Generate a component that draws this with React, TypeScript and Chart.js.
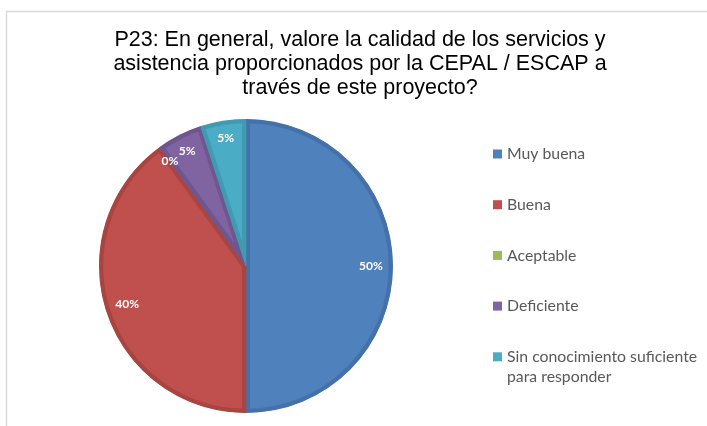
import React, { useEffect, useRef } from "react";
import { Chart, registerables } from "chart.js";

Chart.register(...registerables);

const titleLines = [
  "P23: En general, valore la calidad de los servicios y",
  "asistencia proporcionados por la CEPAL / ESCAP a",
  "través de este proyecto?",
];
const categories = [
  "Muy buena",
  "Buena",
  "Aceptable",
  "Deficiente",
  "Sin conocimiento suficiente para responder",
];
const legendLines = [
  ["Muy buena"],
  ["Buena"],
  ["Aceptable"],
  ["Deficiente"],
  ["Sin conocimiento suficiente", "para responder"],
];
const values = [50, 40, 0, 5, 5];
const valueLabels = ["50%", "40%", "0%", "5%", "5%"];
const fillColors = ["#4F81BD", "#C0504D", "#9BBB59", "#8064A2", "#4BACC6"];
const edgeColors = ["#4571A9", "#A84541", "#87A54C", "#6F5690", "#3F9AB2"];

const framePlugin = {
  id: "frame",
  beforeDraw(chart: any) {
    const ctx = chart.ctx;
    ctx.save();
    ctx.fillStyle = "#ffffff";
    ctx.fillRect(0, 0, chart.width, chart.height);
    ctx.strokeStyle = "#d9d9d9";
    ctx.lineWidth = 1.5;
    ctx.strokeRect(6.5, 11.5, chart.width + 20, chart.height + 20);
    ctx.restore();
  },
};

const titlePlugin = {
  id: "customTitle",
  afterDraw(chart: any) {
    const ctx = chart.ctx;
    ctx.save();
    ctx.fillStyle = "#000000";
    ctx.font = "21.5px 'Liberation Sans', Arial, sans-serif";
    ctx.textAlign = "center";
    ctx.textBaseline = "middle";
    titleLines.forEach((line, i) => {
      ctx.fillText(line, 360, 40 + i * 24);
    });
    ctx.restore();
  },
};

const legendPlugin = {
  id: "customLegend",
  afterDraw(chart: any) {
    const ctx = chart.ctx;
    ctx.save();
    ctx.font = "15.8px Lato, 'Open Sans', sans-serif";
    ctx.textAlign = "left";
    ctx.textBaseline = "middle";
    legendLines.forEach((lines, i) => {
      const y = 154 + i * 50.7;
      ctx.fillStyle = fillColors[i];
      ctx.fillRect(493, y - 4.5, 9, 9);
      ctx.fillStyle = "#595959";
      lines.forEach((t, j) => {
        ctx.fillText(t, 507, y + j * 20);
      });
    });
    ctx.restore();
  },
};

const labelPlugin = {
  id: "sliceLabels",
  afterDatasetsDraw(chart: any) {
    const ctx = chart.ctx;
    const meta = chart.getDatasetMeta(0);
    ctx.save();
    ctx.font = "bold 12px Lato, 'Open Sans', sans-serif";
    ctx.fillStyle = "#ffffff";
    ctx.textAlign = "center";
    ctx.textBaseline = "middle";
    meta.data.forEach((arc: any, i: number) => {
      const p = arc.getProps(["x", "y", "startAngle", "endAngle", "outerRadius"], true);
      const mid = (p.startAngle + p.endAngle) / 2;
      const d = p.outerRadius * (values[i] >= 20 ? 0.85 : 0.88);
      ctx.fillText(valueLabels[i], p.x + Math.cos(mid) * d, p.y + Math.sin(mid) * d);
    });
    ctx.restore();
  },
};

export default function App() {
  const ref = useRef<HTMLCanvasElement | null>(null);
  useEffect(() => {
    if (!ref.current) return;
    const chart = new Chart(ref.current, {
      type: "pie",
      data: {
        labels: categories,
        datasets: [
          {
            data: values,
            backgroundColor: fillColors,
            borderColor: edgeColors,
            borderWidth: 4,
            borderAlign: "inner",
            hoverOffset: 0,
            offset: 0,
          } as any,
        ],
      },
      options: {
        animation: false,
        responsive: false,
        devicePixelRatio: 1,
        events: [],
        layout: { padding: { left: 98, right: 313, top: 119, bottom: 13 } },
        plugins: {
          legend: { display: false },
          title: { display: false },
          tooltip: { enabled: false },
        },
      },
      plugins: [framePlugin, titlePlugin, legendPlugin, labelPlugin],
    });
    return () => chart.destroy();
  }, []);
  return (
    <div style={{ position: "absolute", left: 0, top: 0, width: 707, height: 426 }}>
      <canvas ref={ref} width={707} height={426} />
    </div>
  );
}
